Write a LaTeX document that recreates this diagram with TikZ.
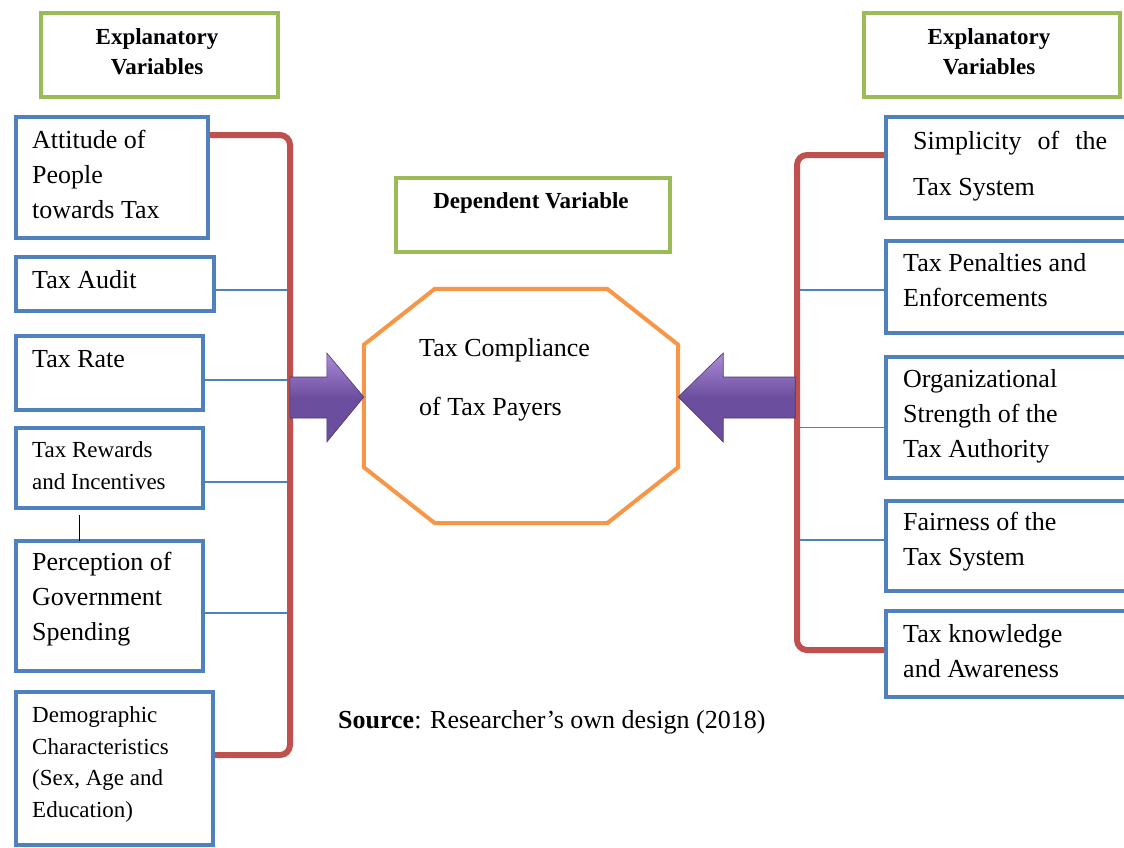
\documentclass[tikz,border=0pt]{standalone}
\usepackage{fontspec}
\setmainfont{Liberation Serif}
\usepackage{tikz}
\usetikzlibrary{arrows.meta, positioning, calc}

\definecolor{boxblue}{RGB}{79,129,189}
\definecolor{boxgreen}{RGB}{155,187,89}
\definecolor{bracketred}{RGB}{192,80,77}
\definecolor{octorange}{RGB}{247,150,70}
\definecolor{arrowlight}{RGB}{170,140,215}
\definecolor{arrowdark}{RGB}{108,78,158}

\begin{document}
\begin{tikzpicture}[x=1pt, y=-1pt,
    varbox/.style={rectangle, draw=boxblue, line width=4pt, anchor=north west, inner sep=0pt},
    headbox/.style={rectangle, draw=boxgreen, line width=4pt, anchor=north west, inner sep=0pt},
    vartext/.style={anchor=base west, align=left, inner sep=0pt, font=\fontsize{26}{35}\selectfont},
    smalltext/.style={anchor=base west, align=left, inner sep=0pt, font=\fontsize{23}{31.5}\selectfont},
    headtext/.style={anchor=base, align=center, inner sep=0pt, font=\fontsize{23}{30}\selectfont\bfseries},
    bracket/.style={draw=bracketred, line width=6pt, rounded corners=10pt},
    link/.style={draw=boxblue, line width=1.2pt},
    bigarrow/.style={top color=arrowlight, bottom color=arrowdark, middle color=arrowdark,
        draw=arrowdark!70!black, line width=0.6pt}
]
    \clip (0,0) rectangle (1124,847);

    % heading boxes (text nodes sit on the baseline of their last line)
    \node[headbox, minimum width=237, minimum height=84] (lhead) at (39,11) {};
    \node[headbox, minimum width=256, minimum height=84] (rhead) at (862,11) {};
    \node[headbox, minimum width=274, minimum height=74] (dephead) at (394,176) {};
    \node[headtext] (lheadT) at (157,74) {Explanatory\\Variables};
    \node[headtext] (rheadT) at (989,74) {Explanatory\\Variables};
    \node[headtext] (depheadT) at (531,208) {Dependent Variable};

    % left explanatory variables
    \node[varbox, minimum width=192, minimum height=121] (attitude) at (14,115) {};
    \node[varbox, minimum width=198, minimum height=54] (audit) at (14,255) {};
    \node[varbox, minimum width=187, minimum height=74] (rate) at (14,334) {};
    \node[varbox, minimum width=187, minimum height=80] (rewards) at (14,426) {};
    \node[varbox, minimum width=187, minimum height=130] (percept) at (14,539) {};
    \node[varbox, minimum width=197, minimum height=153] (demo) at (14,690) {};

    \node[vartext] (attitudeT) at (32,218) {Attitude of\\People\\towards Tax};
    \node[vartext] (auditT) at (32,288) {Tax Audit};
    \node[vartext] (rateT) at (32,367) {Tax Rate};
    \node[smalltext] (rewardsT) at (32,489) {Tax Rewards\\and Incentives};
    \node[vartext] (perceptT) at (32,640) {Perception of\\Government\\Spending};
    \node[smalltext] (demoT) at (32,817) {Demographic\\Characteristics\\(Sex, Age and\\Education)};

    % right explanatory variables
    \node[varbox, minimum width=300, minimum height=101] (simple) at (884,115) {};
    \node[varbox, minimum width=300, minimum height=92] (penal) at (884,239) {};
    \node[varbox, minimum width=300, minimum height=121] (organ) at (884,355) {};
    \node[varbox, minimum width=300, minimum height=90] (fair) at (884,499) {};
    \node[varbox, minimum width=300, minimum height=86] (know) at (884,609) {};

    \node[vartext, font=\fontsize{26}{46}\selectfont] (simpleT) at (913,195)
        {\makebox[194pt][s]{Simplicity of the}\\Tax System};
    \node[vartext] (penalT) at (903,306) {Tax Penalties and\\Enforcements};
    \node[vartext] (organT) at (903,457) {Organizational\\Strength of the\\Tax Authority};
    \node[vartext] (fairT) at (903,565) {Fairness of the\\Tax System};
    \node[vartext] (knowT) at (903,677) {Tax knowledge\\and Awareness};

    % dependent variable
    \node[rectangle, minimum width=314, minimum height=234, inner sep=0pt] (comp) at (521,406) {};
    \draw[octorange, line width=4pt] ($(comp.north west)+(71,0)$) -- ($(comp.north east)+(-71,0)$)
        -- ($(comp.north east)+(0,56)$) -- ($(comp.south east)+(0,-56)$)
        -- ($(comp.south east)+(-71,0)$) -- ($(comp.south west)+(71,0)$)
        -- ($(comp.south west)+(0,-56)$) -- ($(comp.north west)+(0,56)$) -- cycle;
    \node[vartext, font=\fontsize{26}{59}\selectfont] (compT) at (419,415) {Tax Compliance\\of Tax Payers};

    % thin links to the brackets
    \coordinate (ltop) at (290,135);
    \coordinate (lbot) at (290,755);
    \coordinate (rtop) at (797,155);
    \coordinate (rbot) at (797,650);
    \foreach \b/\d in {audit/6, rate/7, rewards/14, percept/7}
        \draw[link] ($(\b.east)+(0,\d)$) -- ($(\b.east -| ltop)+(0,\d)$);
    \foreach \b/\d in {penal/3, organ/10, fair/-6}
        \draw[link] ($(\b.west)+(0,\d)$) -- ($(\b.west -| rtop)+(0,\d)$);
    \draw[line width=1.2pt] ($(rewards.south)+(-30,5)$) -- ($(percept.north)+(-30,2)$);

    % brackets
    \draw[bracket] (attitude.east |- ltop) -- (ltop) -- (lbot) -- (demo.east |- lbot);
    \draw[bracket] (simple.west |- rtop) -- (rtop) -- (rbot) -- (know.west |- rbot);

    % block arrows into the octagon
    \draw[bigarrow] ([yshift=9pt]comp.west) -- ++(-37,-44) -- ++(0,24) -- ++(-37,0)
        -- ++(0,41) -- ++(37,0) -- ++(0,24) -- cycle;
    \draw[bigarrow] ([yshift=9pt]comp.east) -- ++(45,-44) -- ++(0,24) -- ++(72,0)
        -- ++(0,41) -- ++(-72,0) -- ++(0,24) -- cycle;

    \node[anchor=base west, inner sep=0pt, font=\fontsize{26}{30}\selectfont] (source) at (338,728)
        {\textbf{Source}: Researcher’s own design (2018)};
\end{tikzpicture}
\end{document}
